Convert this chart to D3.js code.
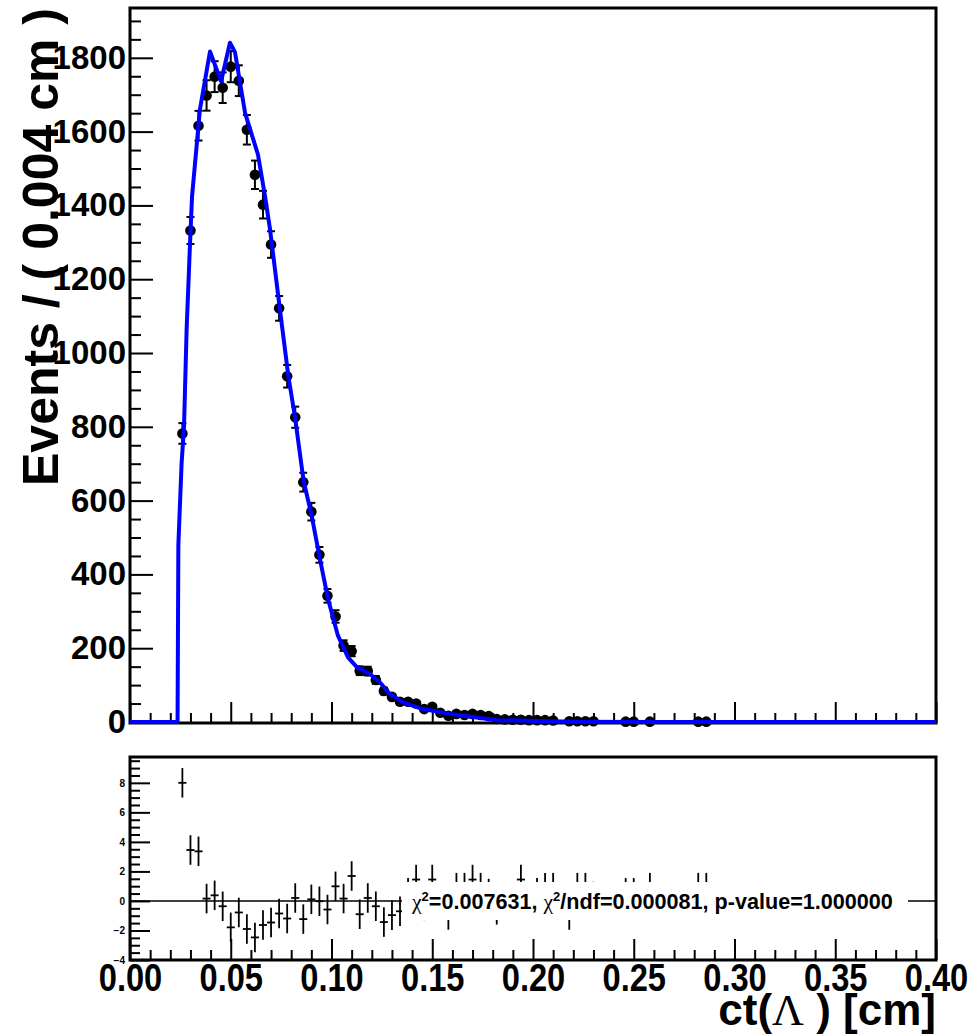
<!DOCTYPE html>
<html><head><meta charset="utf-8">
<script src="https://cdn.jsdelivr.net/npm/d3@7"></script>
<style>body{margin:0;background:#fff} svg{display:block}</style>
</head><body>
<script>
// ---- data ----
const binCenters = [0.026,0.030,0.034,0.038,0.042,0.046,0.050,0.054,0.058,0.062,
  0.066,0.070,0.074,0.078,0.082,0.086,0.090,0.094,0.098,0.102,
  0.106,0.110,0.114,0.118,0.122,0.126,0.130,0.134,0.138,0.142,
  0.146,0.150,0.154,0.158,0.162,0.166,0.170,0.174,0.178,0.182,
  0.186,0.190,0.194,0.198,0.202,0.206,0.210,
  0.218,0.222,0.226,0.230,
  0.246,0.250,0.258,0.282,0.286];
const eventCounts = [782,1332,1616,1698,1749,1719,1776,1738,1605,1483,
  1402,1294,1121,937,826,650,570,453,342,286,
  207,192,139,138,114,84,68,55,55,50,
  35,41,25,17,22,19,22,19,16,8,
  7,6,6,5,5,5,4,
  2,2,2,2,
  1,1,1,1,1];
const pullValues = [8.0,3.45,3.36,0.16,0.38,-0.36,-1.79,-0.78,-1.9,-2.47,
  -1.63,-1.46,-0.85,-1.19,0.2,-1.23,0.11,-0.02,-0.58,0.99,
  0.16,1.69,-0.9,0.2,-0.36,-1.43,-0.96,-0.7,0.55,1.45,
  -0.3,1.45,0.2,-0.95,0.9,0.9,1.45,0.9,0.5,-0.6,
  0.2,0.1,1.45,0.0,0.55,0.9,0.9,
  -0.95,0.9,0.9,0.3,
  0.55,0.55,0.9,0.9,0.9];
const curveCt  = [0,0.0236,0.0240,0.0256,0.0268,0.0281,0.0298,0.0308,0.0347,0.0397,
  0.0452,0.0496,0.0521,0.0571,0.0635,0.0670,0.0695,0.0744,0.0786,0.0819,
  0.0861,0.0902,0.0943,0.0983,0.1032,0.1082,0.1127,0.1191,0.1241,0.1290,
  0.1355,0.1454,0.1588,0.1821,0.22,0.26,0.40];
const curveVal = [0,0,480,700,800,1064,1299,1425,1660,1817,
  1736,1841,1815,1651,1538,1425,1335,1118,937,826,
  655,558,441,333,234,175,148,130,107,76,
  53,35,22,5,1,0,0];
const xTicks = [0,0.05,0.10,0.15,0.20,0.25,0.30,0.35,0.40];
const yTopTicks = [0,200,400,600,800,1000,1200,1400,1600,1800];
const yPullTicks = [-4,-2,0,2,4,6,8];
const binWidth = 0.004;

// ---- layout ----
const W = 969, H = 1034;
const svg = d3.select('body').append('svg').attr('width', W).attr('height', H)
  .style('font-family', '"Liberation Sans", Arial, Helvetica, sans-serif');

const x  = d3.scaleLinear().domain([0, 0.4]).range([130, 936]);
const y  = d3.scaleLinear().domain([0, 1935]).range([722, 8]);
const yp = d3.scaleLinear().domain([-4, 9.75]).range([960, 757]);

function styleAxis(g, fs) {
  g.select('.domain').remove();
  g.selectAll('.tick line').attr('stroke', '#000').attr('stroke-width', 2);
  g.selectAll('.tick text').attr('fill', '#000').style('font-size', fs + 'px')
    .style('font-weight', 'bold').style('font-family', '"Liberation Sans", Arial, sans-serif');
}

// ---- top pad ----
const topPad = svg.append('g');
const minorTop = d3.range(50, 1935, 50).filter(v => v % 200 !== 0);
topPad.append('g').attr('transform', 'translate(130,0)')
  .call(d3.axisLeft(y).tickValues(minorTop).tickSize(-11).tickFormat(''))
  .call(g => styleAxis(g, 10));
topPad.append('g').attr('transform', 'translate(130,0)')
  .call(d3.axisLeft(y).tickValues(yTopTicks).tickSize(-23).tickPadding(4).tickFormat(d3.format('d')))
  .call(g => styleAxis(g, 33));

const minorX = d3.range(0.01, 0.4, 0.01).filter(v => Math.abs(v / 0.05 - Math.round(v / 0.05)) > 1e-6);
topPad.append('g').attr('transform', 'translate(0,723)')
  .call(d3.axisBottom(x).tickValues(minorX).tickSize(-10).tickFormat(''))
  .call(g => styleAxis(g, 10));
topPad.append('g').attr('transform', 'translate(0,723)')
  .call(d3.axisBottom(x).tickValues(xTicks).tickSize(-21).tickFormat(''))
  .call(g => styleAxis(g, 10));

// frame
topPad.append('rect').attr('x', 130).attr('y', 8).attr('width', 806).attr('height', 715)
  .attr('fill', 'none').attr('stroke', '#000').attr('stroke-width', 3);

// data points
const pts = binCenters.map((c, i) => ({c, n: eventCounts[i]}));
const eb = topPad.append('g').attr('stroke', '#000').attr('stroke-width', 2);
pts.forEach(p => {
  const e = Math.sqrt(p.n);
  const px = x(p.c);
  eb.append('line').attr('x1', px).attr('x2', px).attr('y1', y(p.n - e)).attr('y2', y(p.n + e));
  eb.append('line').attr('x1', px - 4).attr('x2', px + 4).attr('y1', y(p.n - e)).attr('y2', y(p.n - e));
  eb.append('line').attr('x1', px - 4).attr('x2', px + 4).attr('y1', y(p.n + e)).attr('y2', y(p.n + e));
  eb.append('line').attr('x1', x(p.c - binWidth / 2)).attr('x2', x(p.c + binWidth / 2)).attr('y1', y(p.n)).attr('y2', y(p.n));
});
topPad.append('g').selectAll('circle').data(pts).join('circle')
  .attr('cx', d => x(d.c)).attr('cy', d => y(d.n)).attr('r', 5.3).attr('fill', '#000');

// fit curve
const curve = curveCt.map((c, i) => [c, curveVal[i]]);
topPad.append('path').datum(curve)
  .attr('d', d3.line().x(d => x(d[0])).y(d => y(d[1])))
  .attr('fill', 'none').attr('stroke', '#0000ff').attr('stroke-width', 4).attr('stroke-linejoin', 'round');

// y title
svg.append('text').attr('transform', 'translate(58,8) rotate(-90)')
  .attr('text-anchor', 'end').style('font-size', '50px').style('font-weight', 'bold')
  .text('Events / ( 0.004 cm )');

// ---- bottom (pull) pad ----
const botPad = svg.append('g');
const minorP = d3.range(-3.5, 9.75, 0.5).filter(v => Math.abs(v % 2) > 1e-6);
botPad.append('g').attr('transform', 'translate(130,0)')
  .call(d3.axisLeft(yp).tickValues(minorP).tickSize(-10).tickFormat(''))
  .call(g => styleAxis(g, 10));
botPad.append('g').attr('transform', 'translate(130,0)')
  .call(d3.axisLeft(yp).tickValues(yPullTicks).tickSize(-20).tickPadding(5).tickFormat(d3.format('d')))
  .call(g => styleAxis(g, 10));
botPad.append('g').attr('transform', 'translate(0,960)')
  .call(d3.axisBottom(x).tickValues(minorX).tickSize(-10).tickFormat(''))
  .call(g => styleAxis(g, 10));
botPad.append('g').attr('transform', 'translate(0,960)')
  .call(d3.axisBottom(x).tickValues(xTicks).tickSize(-21).tickPadding(4).tickFormat(d3.format('.2f')))
  .call(g => { styleAxis(g, 38); g.selectAll('.tick text').attr('transform', 'scale(0.86,1)'); });

// zero line
botPad.append('line').attr('x1', x(0)).attr('x2', x(0.4)).attr('y1', yp(0)).attr('y2', yp(0))
  .attr('stroke', '#000').attr('stroke-width', 1.5);

// pulls
const pb = botPad.append('g').attr('stroke', '#000').attr('stroke-width', 1.8);
binCenters.forEach((c, i) => {
  const v = pullValues[i];
  pb.append('line').attr('x1', x(c)).attr('x2', x(c)).attr('y1', yp(v - 1)).attr('y2', yp(v + 1));
  pb.append('line').attr('x1', x(c - binWidth / 2)).attr('x2', x(c + binWidth / 2)).attr('y1', yp(v)).attr('y2', yp(v));
});

// chi2 box
botPad.append('rect').attr('x', 402).attr('y', 882).attr('width', 506).attr('height', 38).attr('fill', '#fff');
const t = botPad.append('text').attr('x', 412).attr('y', 909).style('font-size', '21.6px').style('font-weight', 'bold');
const chi = () => t.append('tspan').style('font-family', '"Liberation Serif", "Times New Roman", serif').style('font-weight', 'normal').text('χ');
const sup = () => { t.append('tspan').attr('dy', -8).style('font-size', '13px').text('2'); };
chi(); sup();
t.append('tspan').attr('dy', 8).text('=0.007631, ');
chi(); sup();
t.append('tspan').attr('dy', 8).text('/ndf=0.000081, p-value=1.000000');

// frame
botPad.append('rect').attr('x', 130).attr('y', 757).attr('width', 806).attr('height', 203)
  .attr('fill', 'none').attr('stroke', '#000').attr('stroke-width', 3);

// x title
const xt = svg.append('text').attr('x', 936).attr('y', 1025).attr('text-anchor', 'end')
  .style('font-size', '44px').style('font-weight', 'bold');
xt.append('tspan').text('ct(');
xt.append('tspan').style('font-family', '"Liberation Serif", "Times New Roman", serif').style('font-weight', 'normal').text('Λ');
xt.append('tspan').text(' ) [cm]');
</script>
</body></html>
